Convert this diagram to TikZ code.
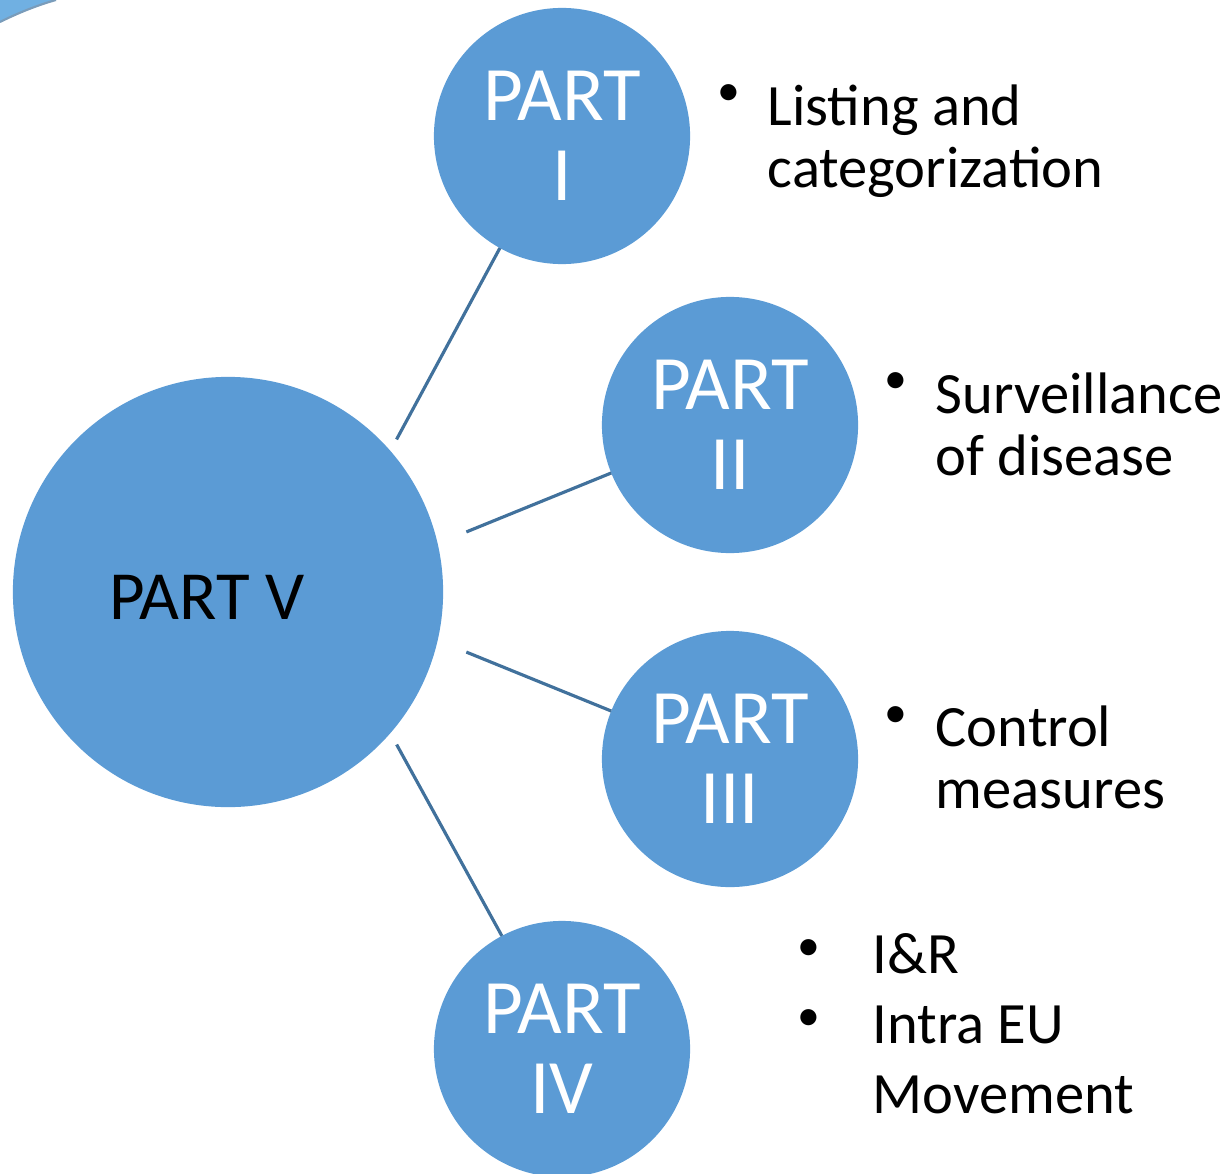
\documentclass[tikz,border=0pt]{standalone}
\usepackage{fontspec}
\setmainfont{Carlito}
\usetikzlibrary{positioning}
\definecolor{partblue}{RGB}{91,155,213}
\definecolor{linkblue}{RGB}{65,113,156}
\definecolor{swooshblue}{RGB}{112,176,226}

\begin{document}
\begin{tikzpicture}[x=0.01cm, y=-0.01cm,
  partcirc/.style={circle, fill=partblue, inner sep=0pt, outer sep=0pt, minimum size=2.56cm, align=center, text=white, font=\fontsize{21.9}{22.8}\selectfont},
  link/.style={draw=linkblue, line width=0.9pt},
  itemtext/.style={anchor=base west, inner sep=0pt, align=left, font=\fontsize{16.65}{17.6}\selectfont},
  itemdot/.style={inner sep=0pt, font=\fontsize{13}{14}\selectfont}
]
  \clip (0,0) rectangle (1222,1173);
  \useasboundingbox (0,0) rectangle (1222,1173);

  % corner of the slide background
  \fill[swooshblue] (0,0) -- (0,22) .. controls (18,13) and (38,5) .. (56,0) -- cycle;
  \draw[linkblue!70, line width=0.6pt] (0,22) .. controls (18,13) and (38,5) .. (56,0);

  % circles
  \node[partcirc, minimum size=4.3cm] (V) at (228,592) {};
  \node[text=black, inner sep=0pt, font=\fontsize{19.6}{20}\selectfont] (Vlabel) at (207,597) {PART V};
  \node[partcirc] (I) at (562,136) {PART\\I};
  \node[partcirc] (II) at (730,425) {PART\\II};
  \node[partcirc] (III) at (730,759) {PART\\III};
  \node[partcirc] (IV) at (562,1049) {PART\\IV};

  % links
  \draw[link, shorten <=0.13cm] (V.41) -- (I.241.5);
  \draw[link, shorten <=0.31cm] (V.13.3) -- (II.202);
  \draw[link, shorten <=0.31cm] (V.-13.3) -- (III.158);
  \draw[link, shorten <=0.13cm] (V.-41) -- (IV.118.5);

  % bullet texts (anchored at the last baseline)
  \node[itemdot] (dI) at (729,95) {•};
  \node[itemtext] (tI) at (767,187) {Listing and\\categorization};
  \node[itemdot] (dII) at (896,383) {•};
  \node[itemtext] (tII) at (935,475) {Surveillance\\of disease};
  \node[itemdot] (dIII) at (896,717) {•};
  \node[itemtext] (tIII) at (935,808) {Control\\measures};
  \node[itemdot] (dIVa) at (809,950) {•};
  \node[itemdot] (dIVb) at (809,1020) {•};
  \node[itemtext, font=\fontsize{16.65}{19.9}\selectfont] (tIV) at (872,1113) {I\&R\\Intra EU\\Movement};
\end{tikzpicture}
\end{document}
